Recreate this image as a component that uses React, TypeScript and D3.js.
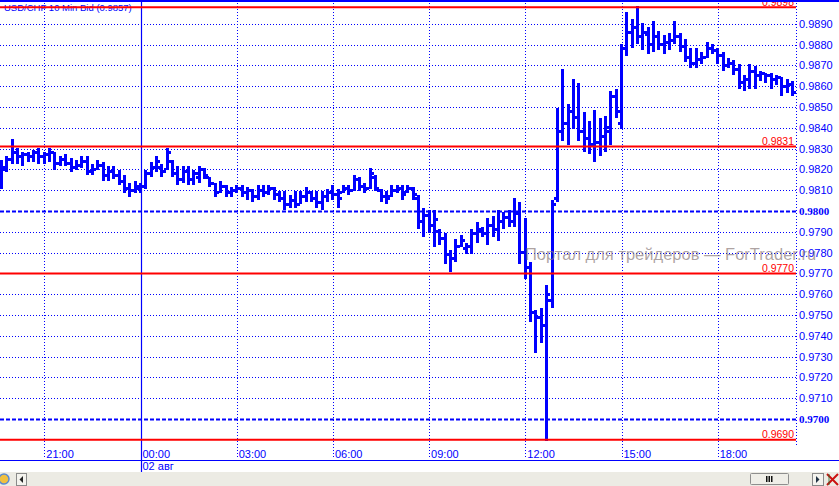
import React from "react";
import * as d3 from "d3";

// ---- data ----
const title = "USD/CHF 10 Min Bid (0.9857)";
const startMinute = -260; // 19:40 of 01 Aug, minutes relative to 00:00 02 Aug
const barMinutes = 10;

const highs = [
  0.9824, 0.9826, 0.9834, 0.9830, 0.9828, 0.9828, 0.9829, 0.9830, 0.9828, 0.9830,
  0.9828, 0.9826, 0.9827, 0.9825, 0.9824, 0.9826, 0.9826, 0.9822, 0.9824, 0.9823,
  0.9821, 0.9821, 0.9819, 0.9817, 0.9813, 0.9814, 0.9813, 0.9819, 0.9823, 0.9826,
  0.9822, 0.9830, 0.9824, 0.9821, 0.9821, 0.9821, 0.9819, 0.9821, 0.9820, 0.9816,
  0.9813, 0.9814, 0.9812, 0.9811, 0.9812, 0.9812, 0.9811, 0.9810, 0.9812, 0.9812,
  0.9812, 0.9811, 0.9809, 0.9809, 0.9807, 0.9809, 0.9809, 0.9811, 0.9809, 0.9809,
  0.9809, 0.9810, 0.9812, 0.9810, 0.9812, 0.9812, 0.9817, 0.9816, 0.9813, 0.9820,
  0.9817, 0.9810, 0.9809, 0.9812, 0.9812, 0.9812, 0.9812, 0.9811, 0.9807, 0.9801,
  0.9800, 0.9800, 0.9791, 0.9789, 0.9781, 0.9786, 0.9788, 0.9784, 0.9791, 0.9794,
  0.9792, 0.9796, 0.9797, 0.9800, 0.9799, 0.9800, 0.9806, 0.9804, 0.9796, 0.9775,
  0.9752, 0.9753, 0.9764, 0.9805, 0.9849, 0.9868, 0.9851, 0.9863, 0.9861, 0.9847,
  0.9843, 0.9848, 0.9844, 0.9845, 0.9857, 0.9858, 0.9880, 0.9895, 0.9892, 0.9898,
  0.9890, 0.9888, 0.9891, 0.9886, 0.9884, 0.9885, 0.9891, 0.9885, 0.9882, 0.9878,
  0.9878, 0.9876, 0.9881, 0.9880, 0.9878, 0.9876, 0.9873, 0.9872, 0.9870, 0.9865,
  0.9870, 0.9869, 0.9867, 0.9866, 0.9866, 0.9865, 0.9864, 0.9863, 0.9862,
];
const lows = [
  0.9811, 0.9819, 0.9823, 0.9823, 0.9822, 0.9824, 0.9824, 0.9823, 0.9823, 0.9824,
  0.9820, 0.9822, 0.9822, 0.9819, 0.9820, 0.9821, 0.9818, 0.9818, 0.9820, 0.9815,
  0.9815, 0.9816, 0.9813, 0.9809, 0.9807, 0.9809, 0.9809, 0.9811, 0.9817, 0.9819,
  0.9817, 0.9820, 0.9817, 0.9813, 0.9814, 0.9813, 0.9813, 0.9814, 0.9816, 0.9812,
  0.9807, 0.9809, 0.9807, 0.9807, 0.9809, 0.9807, 0.9806, 0.9805, 0.9806, 0.9807,
  0.9808, 0.9806, 0.9805, 0.9801, 0.9802, 0.9802, 0.9804, 0.9805, 0.9805, 0.9802,
  0.9801, 0.9805, 0.9806, 0.9802, 0.9809, 0.9808, 0.9810, 0.9810, 0.9809, 0.9811,
  0.9810, 0.9805, 0.9804, 0.9807, 0.9809, 0.9806, 0.9809, 0.9806, 0.9792, 0.9788,
  0.9790, 0.9783, 0.9784, 0.9775, 0.9771, 0.9776, 0.9783, 0.9780, 0.9780, 0.9785,
  0.9788, 0.9784, 0.9788, 0.9786, 0.9792, 0.9793, 0.9793, 0.9775, 0.9768, 0.9747,
  0.9732, 0.9737, 0.9690, 0.9754, 0.9805, 0.9834, 0.9832, 0.9840, 0.9834, 0.9829,
  0.9828, 0.9824, 0.9827, 0.9829, 0.9832, 0.9845, 0.9840, 0.9875, 0.9879, 0.9881,
  0.9878, 0.9876, 0.9877, 0.9878, 0.9876, 0.9878, 0.9881, 0.9877, 0.9872, 0.9869,
  0.9869, 0.9871, 0.9874, 0.9876, 0.9871, 0.9868, 0.9869, 0.9866, 0.9859, 0.9858,
  0.9859, 0.9859, 0.9863, 0.9862, 0.9859, 0.9861, 0.9856, 0.9857, 0.9856,
];
const opens = [
  0.9813, 0.9820, 0.9825, 0.9828, 0.9826, 0.9827, 0.9826, 0.9828, 0.9826, 0.9827,
  0.9828, 0.9823, 0.9825, 0.9823, 0.9821, 0.9822, 0.9824, 0.9819, 0.9820, 0.9822,
  0.9817, 0.9819, 0.9817, 0.9814, 0.9811, 0.9810, 0.9811, 0.9812, 0.9818, 0.9821,
  0.9821, 0.9820, 0.9824, 0.9818, 0.9815, 0.9819, 0.9815, 0.9816, 0.9820, 0.9816,
  0.9813, 0.9809, 0.9812, 0.9809, 0.9810, 0.9811, 0.9809, 0.9810, 0.9807, 0.9810,
  0.9809, 0.9811, 0.9808, 0.9806, 0.9803, 0.9805, 0.9803, 0.9807, 0.9809, 0.9806,
  0.9804, 0.9807, 0.9809, 0.9808, 0.9809, 0.9811, 0.9810, 0.9815, 0.9812, 0.9811,
  0.9816, 0.9810, 0.9807, 0.9807, 0.9810, 0.9811, 0.9809, 0.9811, 0.9806, 0.9795,
  0.9798, 0.9793, 0.9790, 0.9787, 0.9779, 0.9777, 0.9783, 0.9782, 0.9783, 0.9789,
  0.9790, 0.9789, 0.9793, 0.9791, 0.9795, 0.9797, 0.9795, 0.9799, 0.9780, 0.9773,
  0.9751, 0.9749, 0.9745, 0.9757, 0.9806, 0.9838, 0.9842, 0.9848, 0.9845, 0.9838,
  0.9835, 0.9832, 0.9833, 0.9836, 0.9840, 0.9855, 0.9842, 0.9878, 0.9886, 0.9888,
  0.9884, 0.9885, 0.9880, 0.9884, 0.9880, 0.9881, 0.9882, 0.9884, 0.9879, 0.9874,
  0.9871, 0.9873, 0.9874, 0.9878, 0.9877, 0.9875, 0.9870, 0.9871, 0.9868, 0.9862,
  0.9863, 0.9867, 0.9865, 0.9866, 0.9865, 0.9863, 0.9864, 0.9860, 0.9861,
];
const closes = [
  0.9821, 0.9825, 0.9828, 0.9826, 0.9827, 0.9826, 0.9828, 0.9826, 0.9827, 0.9828,
  0.9823, 0.9825, 0.9823, 0.9821, 0.9822, 0.9824, 0.9819, 0.9820, 0.9822, 0.9817,
  0.9819, 0.9817, 0.9814, 0.9811, 0.9810, 0.9812, 0.9812, 0.9818, 0.9821, 0.9824,
  0.9819, 0.9828, 0.9818, 0.9815, 0.9819, 0.9815, 0.9818, 0.9820, 0.9817, 0.9813,
  0.9809, 0.9812, 0.9809, 0.9810, 0.9811, 0.9809, 0.9810, 0.9807, 0.9810, 0.9809,
  0.9811, 0.9808, 0.9806, 0.9803, 0.9805, 0.9803, 0.9807, 0.9809, 0.9806, 0.9804,
  0.9807, 0.9809, 0.9808, 0.9806, 0.9811, 0.9810, 0.9815, 0.9812, 0.9811, 0.9818,
  0.9811, 0.9807, 0.9806, 0.9810, 0.9811, 0.9808, 0.9811, 0.9808, 0.9795, 0.9798,
  0.9793, 0.9796, 0.9787, 0.9779, 0.9777, 0.9783, 0.9786, 0.9783, 0.9789, 0.9791,
  0.9789, 0.9793, 0.9791, 0.9795, 0.9797, 0.9795, 0.9799, 0.9780, 0.9773, 0.9751,
  0.9749, 0.9745, 0.9760, 0.9803, 0.9838, 0.9842, 0.9848, 0.9845, 0.9838, 0.9835,
  0.9832, 0.9833, 0.9836, 0.9838, 0.9855, 0.9848, 0.9878, 0.9886, 0.9888, 0.9884,
  0.9886, 0.9880, 0.9884, 0.9880, 0.9881, 0.9882, 0.9884, 0.9879, 0.9874, 0.9871,
  0.9873, 0.9874, 0.9878, 0.9877, 0.9875, 0.9870, 0.9871, 0.9868, 0.9862, 0.9863,
  0.9867, 0.9865, 0.9866, 0.9865, 0.9863, 0.9864, 0.9860, 0.9861, 0.9857,
];

const priceTicks = [
  0.9700, 0.9710, 0.9720, 0.9730, 0.9740, 0.9750, 0.9760, 0.9770, 0.9780, 0.9790,
  0.9800, 0.9810, 0.9820, 0.9830, 0.9840, 0.9850, 0.9860, 0.9870, 0.9880, 0.9890,
];
const majorPriceTicks = [0.9700, 0.9800];
const redLevels = [0.9898, 0.9831, 0.9770, 0.9690];

const timeTicks = [-180, 0, 180, 360, 540, 720, 900, 1080];
const timeLabels = ["21:00", "00:00", "03:00", "06:00", "09:00", "12:00", "15:00", "18:00"];
const dayBreak = 0;
const dayLabel = "02 авг";
const watermark = "Портал для трейдеров — ForTrader.ru";

// ---- layout ----
const W = 839;
const H = 486;
const plotRight = 796;
const axisLineY = 460;
const BLUE = "#0000ff";
const RED = "#ff0000";
const FONT = "'Liberation Sans', Arial, sans-serif";

const x = d3.scaleLinear().domain([-180, 1080]).range([44.3, 717.7]);
const y = d3.scaleLinear().domain([0.969, 0.989]).range([439.8, 23.8]);

export default function App() {
  const bars = highs.map((h, i) => ({
    t: startMinute + i * barMinutes,
    h,
    l: lows[i],
    o: opens[i],
    c: closes[i],
  }));

  return (
    <svg
      width={W}
      height={H}
      style={{ position: "absolute", left: 0, top: 0, background: "#fff" }}
      fontFamily={FONT}
    >
      <rect x={0} y={0} width={W} height={H} fill="#fff" />

      {/* horizontal grid */}
      {priceTicks.map((p) => {
        const major = majorPriceTicks.some((m) => Math.abs(m - p) < 1e-6);
        const yy = Math.round(y(p)) + 0.5;
        return (
          <line
            key={"hg" + p}
            x1={0}
            x2={plotRight}
            y1={yy}
            y2={yy}
            stroke={BLUE}
            strokeWidth={major ? 2 : 1}
            strokeDasharray={major ? "4 2" : "1 2"}
          />
        );
      })}

      {/* vertical grid */}
      {timeTicks.map((t) => {
        const xx = Math.round(x(t)) + 0.5;
        if (t === dayBreak) {
          return (
            <line key={"vg" + t} x1={xx} x2={xx} y1={0} y2={472} stroke={BLUE} strokeWidth={1.2} />
          );
        }
        return (
          <line
            key={"vg" + t}
            x1={xx}
            x2={xx}
            y1={0}
            y2={458}
            stroke={BLUE}
            strokeWidth={1}
            strokeDasharray="1 2"
          />
        );
      })}

      {/* right axis line */}
      <line
        x1={plotRight + 0.5}
        x2={plotRight + 0.5}
        y1={0}
        y2={446}
        stroke={BLUE}
        strokeWidth={1}
        strokeDasharray="1 2"
      />

      {/* title */}
      <text x={4} y={11} fontSize={9.5} fill={BLUE}>
        {title}
      </text>

      {/* bars */}
      <g fill={BLUE} shapeRendering="crispEdges">
        {bars.map((b, i) => {
          const xx = x(b.t);
          const yh = y(b.h);
          const yl = y(b.l);
          return (
            <g key={"b" + i}>
              <rect x={xx - 1.5} y={yh - 1} width={3} height={Math.max(2, yl - yh + 2)} />
              <rect x={xx - 3.7} y={y(b.o) - 1.5} width={2.4} height={3} />
              <rect x={xx + 1.3} y={y(b.c) - 1.5} width={2.4} height={3} />
            </g>
          );
        })}
      </g>

      {/* red levels */}
      {redLevels.map((p) => {
        const yy = y(p);
        return (
          <g key={"rl" + p}>
            <line x1={0} x2={plotRight} y1={yy} y2={yy} stroke={RED} strokeWidth={2} />
            <text x={794} y={yy - 1.5} fontSize={10.5} fill={RED} textAnchor="end">
              {p.toFixed(4)}
            </text>
          </g>
        );
      })}

      {/* right axis labels */}
      {priceTicks.map((p) => {
        const major = majorPriceTicks.some((m) => Math.abs(m - p) < 1e-6);
        return (
          <text
            key={"pl" + p}
            x={799}
            y={y(p) + 4}
            fontSize={11}
            fill={BLUE}
            fontWeight={major ? "bold" : "normal"}
            fontFamily={major ? "'Liberation Serif', serif" : FONT}
          >
            {p.toFixed(4)}
          </text>
        );
      })}

      {/* watermark */}
      <text x={525} y={260} fontSize={16.5} fill="#8a7a7a" fillOpacity={0.7} fontFamily={FONT}>
        {watermark}
      </text>

      {/* time labels */}
      {timeTicks.map((t, i) => (
        <text key={"tl" + t} x={x(t) + 2} y={457.5} fontSize={11} fill={BLUE}>
          {timeLabels[i]}
        </text>
      ))}
      <line x1={0} x2={W} y1={axisLineY + 0.5} y2={axisLineY + 0.5} stroke={BLUE} strokeWidth={1} />
      <text x={x(dayBreak) + 2} y={469.5} fontSize={11} fill={BLUE}>
        {dayLabel}
      </text>

      {/* top border */}
      <rect x={0} y={0} width={W} height={2} fill={BLUE} />

      {/* bottom toolbar */}
      <rect x={0} y={472} width={W} height={14} fill="#ecebe4" />
      <circle cx={4} cy={479} r={5} fill="#f0c040" stroke="#5a8ad0" strokeWidth={1.5} />
      <rect x={16.5} y={473.5} width={10} height={12} fill="#f4f3ee" stroke="#8a8a8a" />
      <path d="M23,476 L19.5,479.5 L23,483 Z" fill="#222" />
      <rect x={750.5} y={473.5} width={38} height={11} fill="#efeee8" stroke="#8e8e8e" rx={1} />
      <rect x={766} y={476} width={1.5} height={6} fill="#111" />
      <rect x={768.5} y={476} width={1.5} height={6} fill="#111" />
      <rect x={771} y={476} width={1.5} height={6} fill="#111" />
      <rect x={812.5} y={473.5} width={11} height={12} fill="#f4f3ee" stroke="#8a8a8a" />
      <path d="M816,476 L819.5,479.5 L816,483 Z" fill="#223344" />
      <path d="M827,474 L838,485 M838,474 L827,485" stroke="#cc1111" strokeWidth={2} />
      <path d="M829,474 L829,485" stroke="#2a6a2a" strokeWidth={0.8} />
    </svg>
  );
}
